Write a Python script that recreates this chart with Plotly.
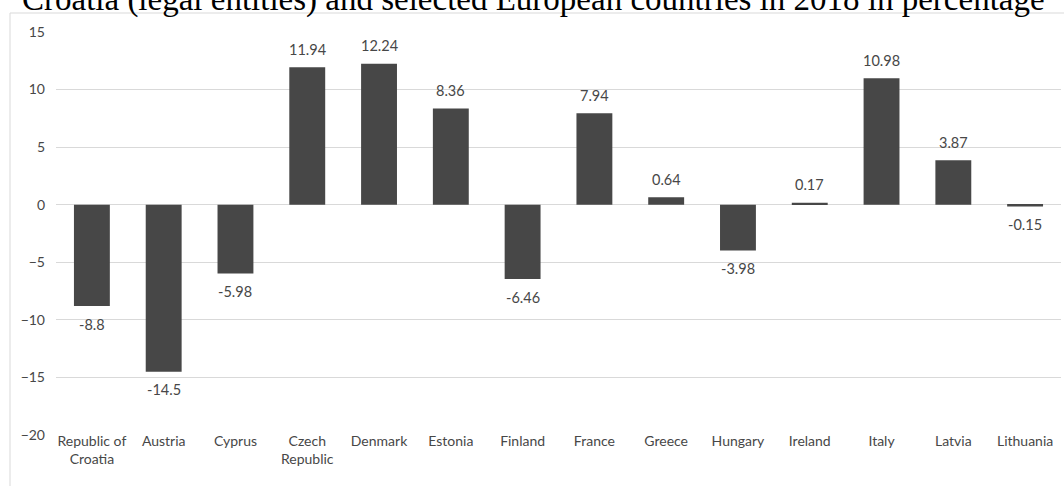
import plotly.graph_objects as go

# Change in percentage, 2018
countries = ["Republic of<br>Croatia", "Austria", "Cyprus", "Czech<br>Republic", "Denmark",
             "Estonia", "Finland", "France", "Greece", "Hungary", "Ireland", "Italy",
             "Latvia", "Lithuania"]
values = [-8.8, -14.5, -5.98, 11.94, 12.24, 8.36, -6.46, 7.94, 0.64, -3.98, 0.17, 10.98,
          3.87, -0.15]
value_labels = ["-8.8", "-14.5", "-5.98", "11.94", "12.24", "8.36", "-6.46", "7.94", "0.64",
                "-3.98", "0.17", "10.98", "3.87", "-0.15"]
y_ticks = [-20, -15, -10, -5, 0, 5, 10, 15]

title_text = "Croatia (legal entities) and selected European countries in 2018 in percentage"

W, H = 1064, 486
ML, MR, MT, MB = 56, 3, 32, 51
PW, PH = W - ML - MR, H - MT - MB


def px_x(p):
    return (p - ML) / PW


def px_y(p):
    return 1 - (p - MT) / PH


TXT = "#474747"
FONT = "Lato"

fig = go.Figure()
fig.add_trace(go.Bar(
    x=countries, y=values,
    marker=dict(color="#474747", line=dict(width=0)),
    hoverinfo="skip",
))

for c, v, t in zip(countries, values, value_labels):
    fig.add_annotation(
        x=c, y=v, text=t, showarrow=False,
        xref="x", yref="y", yanchor="middle",
        yshift=18 if v >= 0 else -18,
        font=dict(family=FONT, size=14.5, color=TXT),
    )

fig.add_annotation(
    x=px_x(533), xref="paper", xanchor="center", y=px_y(-1), yref="paper", yanchor="middle",
    text=title_text, showarrow=False,
    font=dict(family="Liberation Serif", size=33, color="black"),
)

# light frame around the chart area
fig.add_shape(
    type="rect", xref="paper", yref="paper",
    x0=px_x(10), x1=px_x(1075), y0=px_y(13), y1=px_y(500),
    line=dict(color="#d9d9d9", width=1), fillcolor="rgba(0,0,0,0)", layer="below",
)

fig.update_layout(
    width=W, height=H,
    margin=dict(l=ML, r=MR, t=MT, b=MB, pad=0),
    paper_bgcolor="white", plot_bgcolor="white",
    bargap=0.5, showlegend=False,
    font=dict(family=FONT, size=14, color=TXT),
)
fig.update_xaxes(
    showgrid=False, showline=False, ticks="", zeroline=False, ticklabelstandoff=-4,
    tickfont=dict(family=FONT, size=14, color=TXT),
)
fig.update_yaxes(
    range=[-20, 15], tickvals=y_ticks, showgrid=True, gridcolor="#d9d9d9", gridwidth=1,
    zeroline=True, zerolinecolor="#d9d9d9", zerolinewidth=1,
    showline=False, ticks="", ticklabelstandoff=10,
    tickfont=dict(family=FONT, size=14, color=TXT),
)

fig.write_html("out.html")
